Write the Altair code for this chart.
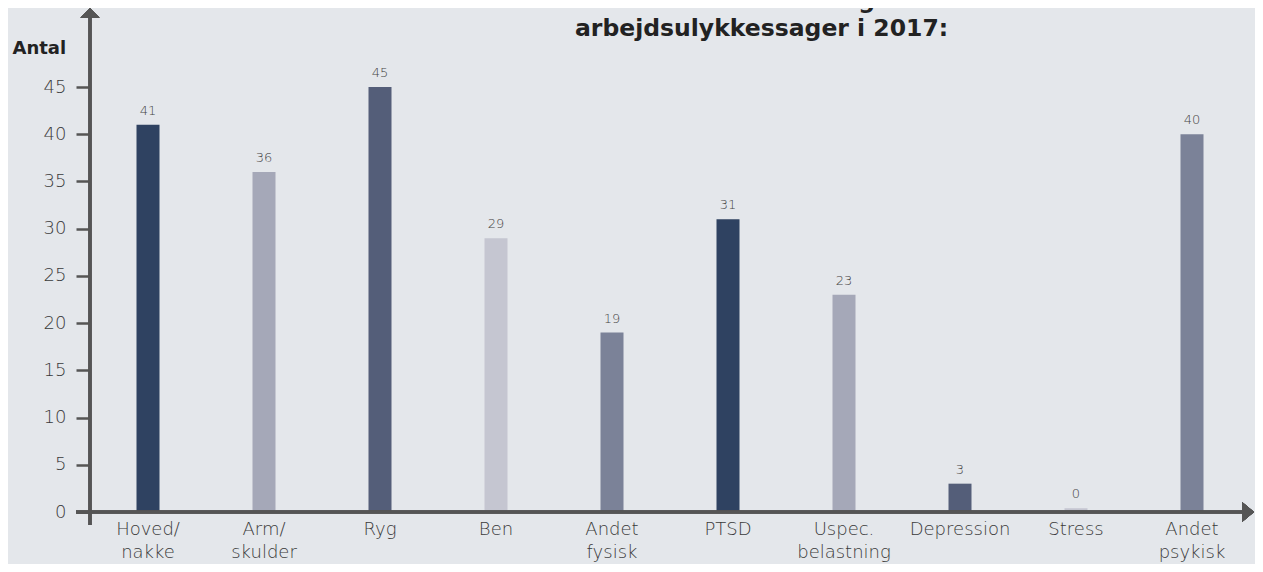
import altair as alt
import pandas as pd

categories = ["Hoved/ nakke", "Arm/ skulder", "Ryg", "Ben", "Andet fysisk",
              "PTSD", "Uspec. belastning", "Depression", "Stress", "Andet psykisk"]
values = [41, 36, 45, 29, 19, 31, 23, 3, 0, 40]
bar_colors = ["#2f4261", "#a5a8b8", "#545e79", "#c5c6d1", "#7b8298",
              "#2f4261", "#a5a8b8", "#545e79", "#c5c6d1", "#7b8298"]
y_ticks = [0, 5, 10, 15, 20, 25, 30, 35, 40, 45]
title_lines = ["Den samlede fordeling af afsluttede", "arbejdsulykkessager i 2017:"]
y_title = "Antal"

df = pd.DataFrame({"cat": categories, "value": values})

FONT = "DejaVu Sans"
AX = "#555555"
TXT = "#3a3a3a"

x_enc = alt.X("cat:N", sort=categories,
              scale=alt.Scale(paddingInner=0, paddingOuter=0),
              axis=alt.Axis(title=None, labelAngle=0, domain=False, ticks=False, tickSize=0,
                            labelExpr="split(datum.label, ' ')",
                            labelFont=FONT, labelFontSize=18, labelFontWeight=300,
                            labelColor=TXT, labelLineHeight=23, labelPadding=8,
                            labelBaseline="top"))
y_scale = alt.Scale(domain=[0, 53.37], nice=False, zero=True)
y_enc = alt.Y("bar_val:Q", scale=y_scale,
              axis=alt.Axis(values=y_ticks, grid=False, domain=False,
                            tickSize=14, tickWidth=2.5, tickColor=AX,
                            labelFont=FONT, labelFontSize=18, labelFontWeight=300,
                            labelColor=TXT, labelPadding=10,
                            title=y_title, titleAngle=0, titleX=-78, titleY=45,
                            titleAlign="left", titleBaseline="alphabetic",
                            titleFont=FONT, titleFontSize=18, titleFontWeight="bold",
                            titleColor="#222222"))

base = alt.Chart(df).transform_calculate(bar_val="max(datum.value, 0.4)")

bars = base.mark_bar(size=23).encode(
    x=x_enc, y=y_enc,
    color=alt.Color("cat:N", scale=alt.Scale(domain=categories, range=bar_colors), legend=None),
)

labels = base.mark_text(dy=-10, baseline="alphabetic", font=FONT, fontSize=13,
                        fontWeight=300, color="#444444").encode(
    x=alt.X("cat:N", sort=categories), y=alt.Y("bar_val:Q", scale=y_scale), text="value:Q")

y_line = alt.Chart(df).mark_rule(color=AX, strokeWidth=2.5).encode(
    x=alt.value(0), y=alt.value(10), y2=alt.value(517))
x_line = alt.Chart(df).mark_rule(color=AX, strokeWidth=2.5).encode(
    x=alt.value(-14), x2=alt.value(1155), y=alt.value(504))

y_arrow = alt.Chart(df).mark_point(shape="M-1,0.5L0,-0.5L1,0.5Z", filled=True, size=361,
                                   color=AX, opacity=1).encode(
    x=alt.value(0), y=alt.value(5))
x_arrow = alt.Chart(df).mark_point(shape="M-0.6,-1L0.6,0L-0.6,1Z", filled=True, size=400,
                                   color=AX, opacity=1).encode(
    x=alt.value(1158), y=alt.value(504))

title = alt.Chart(pd.DataFrame({"t": [title_lines]})).mark_text(
    align="left", baseline="alphabetic", font=FONT, fontSize=23.5, fontWeight="bold",
    color="#222222", lineHeight=28).encode(
    x=alt.value(485), y=alt.value(0), text="t")

chart = alt.layer(bars, labels, y_line, x_line, y_arrow, x_arrow, title).properties(
    width=1160, height=504,
    autosize=alt.AutoSizeParams(type="none"),
    padding={"left": 82, "top": 0, "right": 5, "bottom": 52},
    background="#e4e7eb",
).configure_view(stroke=None)

chart.save("out.html", embed_options={"renderer": "svg", "actions": False})
